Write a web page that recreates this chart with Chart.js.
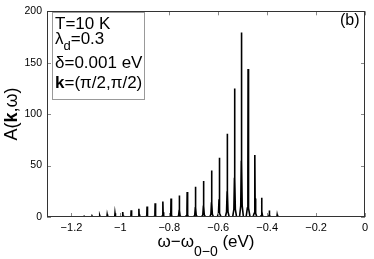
<!DOCTYPE html>
<html>
<head>
<meta charset="utf-8">
<script src="https://cdn.jsdelivr.net/npm/chart.js@4/dist/chart.umd.min.js"></script>
<style>
    html, body { margin: 0; padding: 0; background: #fff; }
    #wrap { position: relative; width: 374px; height: 259px; }
</style>
</head>
<body>
<div id="wrap"><canvas id="chart"></canvas></div>
<script>
// peak positions (eV) and peak heights
const peakPos = [-1.210, -1.180, -1.148, -1.116, -1.084, -1.054, -1.022, -0.990, -0.956, -0.924,
                 -0.891, -0.858, -0.826, -0.793, -0.759, -0.727, -0.693, -0.660, -0.627, -0.596,
                 -0.563, -0.533, -0.505, -0.478, -0.450, -0.422, -0.391, -0.359, -0.329, -0.298];
const peakHeight = [0.1, 0.3, 0.6, 1.0, 1.3, 2.4, 3.6, 4.8, 6.6, 8.1,
                    10.2, 13.3, 15.0, 18.0, 20.8, 24.4, 29.5, 35.0, 45.2, 57.7,
                    81.0, 125.0, 179.5, 144.0, 60.3, 18.6, 6.4, 2.2, 0.5, 0.1];

// shape of one peak (offset in eV, fraction of the peak height)
const peakShapeDx = [-0.008, -0.003, -0.0008, 0, 0.0008, 0.003, 0.008];
const peakShapeFrac = [0, 0.06, 0.3, 1, 0.3, 0.06, 0];

const xTicks = [-1.2, -1, -0.8, -0.6, -0.4, -0.2, 0];
const yTicks = [0, 50, 100, 150, 200];
const xRange = [-1.3, 0];
const yRange = [0, 200];

const FONT = '"Liberation Sans", Arial, Helvetica, sans-serif';

// build the spectrum line from the peak lists
function buildSpectrum() {
    const pts = [{ x: xRange[0], y: 0 }];
    peakPos.forEach((p, i) => {
        peakShapeDx.forEach((dx, j) => {
            pts.push({ x: p + dx, y: peakHeight[i] * peakShapeFrac[j] });
        });
    });
    pts.push({ x: xRange[1], y: 0 });
    return pts;
}

// draws a run of text pieces: [text, font, dy]
function drawRich(ctx, parts, x, y, align) {
    let total = 0;
    parts.forEach(p => { ctx.font = p[1]; total += ctx.measureText(p[0]).width; });
    let cx = align === 'center' ? x - total / 2 : x;
    ctx.textAlign = 'left';
    ctx.textBaseline = 'alphabetic';
    parts.forEach(p => {
        ctx.font = p[1];
        ctx.fillText(p[0], cx, y + (p[2] || 0));
        cx += ctx.measureText(p[0]).width;
    });
}

const decorPlugin = {
    id: 'decor',
    afterDraw(chart) {
        const { ctx, chartArea: a, scales: { x, y } } = chart;
        ctx.save();

        // inner tick marks on all four sides
        ctx.strokeStyle = '#888';
        ctx.lineWidth = 1;
        const tl = 4;
        ctx.beginPath();
        xTicks.forEach(v => {
            const px = Math.round(x.getPixelForValue(v)) + 0.5;
            ctx.moveTo(px, a.bottom); ctx.lineTo(px, a.bottom - tl);
            ctx.moveTo(px, a.top); ctx.lineTo(px, a.top + tl);
        });
        yTicks.forEach(v => {
            const py = Math.round(y.getPixelForValue(v)) + 0.5;
            ctx.moveTo(a.left, py); ctx.lineTo(a.left + tl, py);
            ctx.moveTo(a.right, py); ctx.lineTo(a.right - tl, py);
        });
        ctx.stroke();

        // axes box
        ctx.strokeStyle = '#333';
        ctx.strokeRect(Math.round(a.left) + 0.5, Math.round(a.top) + 0.5,
                       Math.round(a.right - a.left) - 1, Math.round(a.bottom - a.top) - 1);

        // info box
        ctx.fillStyle = '#fff';
        ctx.fillRect(52.5, 12.5, 92, 87);
        ctx.strokeStyle = '#999';
        ctx.strokeRect(52.5, 12.5, 92, 87);

        ctx.fillStyle = '#000';
        const f = '17px ' + FONT;
        drawRich(ctx, [['T=10 K', f]], 55, 29);
        drawRich(ctx, [['λ', f], ['d', '13px ' + FONT, 6], ['=0.3', f]], 55, 44);
        drawRich(ctx, [['δ=0.001 eV', f]], 55, 68);
        drawRich(ctx, [['k', 'bold 17px ' + FONT], ['=(π/2,π/2)', f]], 55, 88);

        // panel label
        drawRich(ctx, [['(b)', '16px ' + FONT]], 340, 25);

        // x axis title
        drawRich(ctx, [['ω−ω', '17px ' + FONT], ['0−0', '14px ' + FONT, 9], [' (eV)', '17px ' + FONT]],
                 (a.left + a.right) / 2, 247, 'center');

        // y axis title (rotated)
        ctx.translate(17, 114);
        ctx.rotate(-Math.PI / 2);
        drawRich(ctx, [['A(', '18px ' + FONT], ['k', 'bold 18px ' + FONT], [',ω)', '18px ' + FONT]], 0, 0, 'center');

        ctx.restore();
    }
};

function fmtTick(v) {
    if (v === 0) return '0';
    return v < 0 ? '−' + String(Math.abs(v)) : String(v);
}

function init() {
    Chart.defaults.font.family = FONT;
    Chart.defaults.font.size = 11;
    Chart.defaults.color = '#000';

    new Chart(document.getElementById('chart'), {
        type: 'scatter',
        data: {
            datasets: [{
                data: buildSpectrum(),
                showLine: true,
                borderColor: '#000',
                borderWidth: 1.6,
                pointRadius: 0,
                tension: 0
            }]
        },
        options: {
            responsive: true,
            maintainAspectRatio: false,
            animation: false,
            layout: { padding: { top: 8, right: 9, left: 0, bottom: 0 } },
            scales: {
                x: {
                    type: 'linear',
                    min: xRange[0],
                    max: xRange[1],
                    afterBuildTicks: s => { s.ticks = xTicks.map(v => ({ value: v })); },
                    afterFit: s => { s.height = 42; },
                    grid: { display: false, drawTicks: false },
                    border: { display: false },
                    ticks: { padding: 4, maxRotation: 0, autoSkip: false, callback: v => fmtTick(v) }
                },
                y: {
                    min: yRange[0],
                    max: yRange[1],
                    afterBuildTicks: s => { s.ticks = yTicks.map(v => ({ value: v })); },
                    afterFit: s => { s.width = 47; },
                    grid: { display: false, drawTicks: false },
                    border: { display: false },
                    ticks: { padding: 5, autoSkip: false, font: { size: 10.5 }, callback: v => fmtTick(v) }
                }
            },
            plugins: {
                legend: { display: false },
                tooltip: { enabled: false }
            }
        },
        plugins: [decorPlugin]
    });
}

init();
</script>
</body>
</html>
